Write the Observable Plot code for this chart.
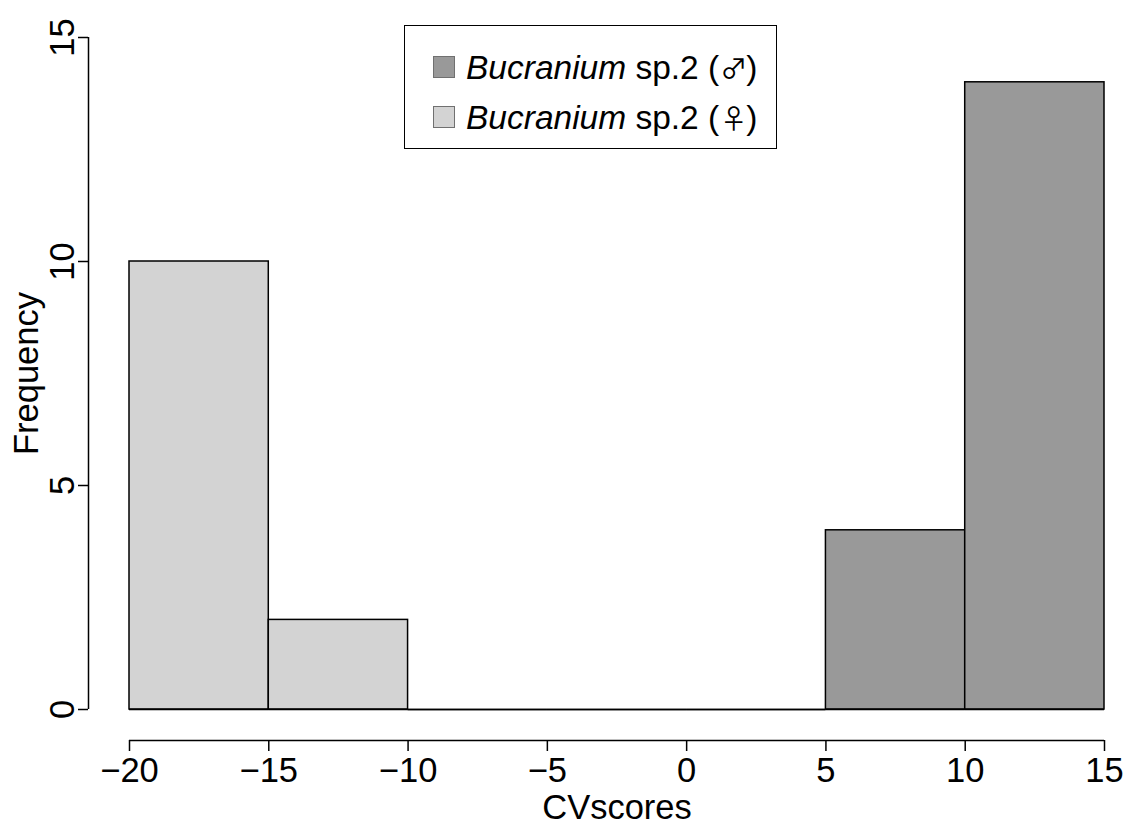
<!DOCTYPE html>
<html>
<head>
<meta charset="utf-8">
<script src="https://cdn.jsdelivr.net/npm/d3@7"></script>
<script src="https://cdn.jsdelivr.net/npm/@observablehq/plot@0.6"></script>
<style>
  html, body { margin: 0; padding: 0; background: #fff; }
  #wrap { position: relative; width: 1134px; height: 828px; font-family: "Liberation Sans", Arial, Helvetica, sans-serif; }
  #legend {
    position: absolute; left: 404px; top: 25px; width: 371px; height: 122px;
    border: 1.5px solid #000; background: #fff; box-sizing: content-box;
  }
  .row { position: absolute; left: 28px; height: 40px; display: flex; align-items: center; font-size: 33.5px; color: #000; white-space: nowrap; }
  .sw { width: 20px; height: 20px; border: 1.5px solid #707070; margin-right: 11px; flex: none; }
  .sym { font-family: "Noto Sans CJK JP", "DejaVu Sans", sans-serif; font-size: 27px; display: inline-block; margin: 0 -1px 0 1px; }
</style>
</head>
<body>
<div id="wrap"></div>
<script>
// Histogram bin edges and counts per sex (CV scores)
const breaks = [-20, -15, -10, -5, 0, 5, 10, 15];
const femaleCounts = [10, 2, 0, 0, 0, 0, 0];
const maleCounts = [0, 0, 0, 0, 0, 4, 14];
const xTicks = [-20, -15, -10, -5, 0, 5, 10, 15];
const yTicks = [0, 5, 10, 15];
const groups = ["male", "female"];
const groupFill = {male: "#999999", female: "#d3d3d3"};
const groupLabel = {male: "\u2642", female: "\u2640"};

function toBins(counts, sex) {
  return counts.map((count, i) => ({x1: breaks[i], x2: breaks[i + 1], count, sex}));
}
const bins = [...toBins(femaleCounts, "female"), ...toBins(maleCounts, "male")];
const filled = bins.filter(d => d.count > 0);
const empty = bins.filter(d => d.count === 0);

const axisOffset = 31; // gap between the bars' baseline and the x axis
const yAxisOffset = 41; // gap between the first bin edge and the y axis
const fs = 34.5;

const chart = Plot.plot({
  width: 1134,
  height: 828,
  marginLeft: 129,
  marginRight: 30,
  marginTop: 37,
  marginBottom: 119,
  style: {fontFamily: "'Liberation Sans', Arial, Helvetica, sans-serif", background: "#fff", color: "#000"},
  x: {domain: d3.extent(breaks)},
  y: {domain: d3.extent(yTicks)},
  marks: [
    Plot.rectY(filled, {
      x1: "x1", x2: "x2", y: "count",
      fill: d => groupFill[d.sex],
      stroke: "#000", strokeWidth: 1.5, inset: 0
    }),
    Plot.ruleY(empty, {x1: "x1", x2: "x2", y: 0, stroke: "#000", strokeWidth: 1.5}),
    // x axis
    Plot.ruleY([0], {x1: d3.min(xTicks), x2: d3.max(xTicks), dy: axisOffset, stroke: "#000", strokeWidth: 1.5}),
    Plot.axisX({
      ticks: xTicks, tickSize: 11, tickPadding: 6, dy: axisOffset,
      fontSize: fs, label: null, strokeWidth: 1.5, stroke: "#000", fill: "#000"
    }),
    // y axis
    Plot.ruleX([d3.min(breaks)], {y1: d3.min(yTicks), y2: d3.max(yTicks), dx: -yAxisOffset, stroke: "#000", strokeWidth: 1.5}),
    Plot.axisY({
      ticks: yTicks, tickSize: 10, tickPadding: 5, dx: -yAxisOffset, tickRotate: -90,
      fontSize: fs, label: null, strokeWidth: 1.5, stroke: "#000", fill: "#000"
    }),
    // axis titles
    Plot.text(["CVscores"], {frameAnchor: "bottom", dy: 98, fontSize: fs, lineAnchor: "middle", textAnchor: "middle", fill: "#000"}),
    Plot.text(["Frequency"], {frameAnchor: "left", dx: -103, rotate: -90, fontSize: fs, lineAnchor: "middle", textAnchor: "middle", fill: "#000"})
  ]
});

const wrap = document.getElementById("wrap");
wrap.appendChild(chart);

// Legend box
const legend = document.createElement("div");
legend.id = "legend";
groups.forEach((g, i) => {
  const row = document.createElement("div");
  row.className = "row";
  row.style.top = (21 + i * 50) + "px";
  const sw = document.createElement("div");
  sw.className = "sw";
  sw.style.background = groupFill[g];
  row.appendChild(sw);
  const label = document.createElement("span");
  label.innerHTML = "<i>Bucranium</i>&nbsp;sp.2 (<span class='sym'>" + groupLabel[g] + "</span>)";
  row.appendChild(label);
  legend.appendChild(row);
});
wrap.appendChild(legend);
</script>
</body>
</html>
